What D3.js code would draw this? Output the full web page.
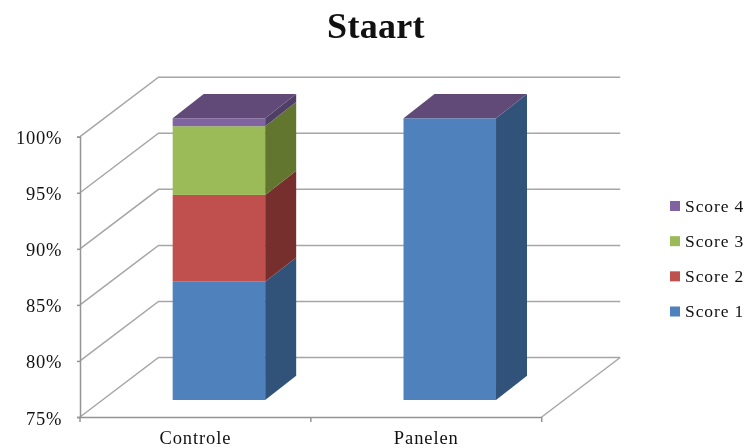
<!DOCTYPE html>
<html>
<head>
<meta charset="utf-8">
<script src="https://cdnjs.cloudflare.com/ajax/libs/d3/7.8.5/d3.min.js"></script>
<style>
    body { margin: 0; background: #fff; overflow: hidden; }
    svg { display: block; filter: blur(0.35px); }
    text { font-family: "Liberation Serif", serif; fill: #111; }
</style>
</head>
<body>
<div id="chart"></div>
<script>
var categories = ["Controle", "Panelen"];
var seriesNames = ["Score 1", "Score 2", "Score 3", "Score 4"];
var score1 = [85.5, 100];
var score2 = [7.7, 0];
var score3 = [6.1, 0];
var score4 = [0.7, 0];
var yTicks = [75, 80, 85, 90, 95, 100];

var frontColors = ["#4f81bd", "#c0504d", "#9bbb59", "#8064a2"];
var sideColors = ["#31537a", "#772f2e", "#62762f", "#4f3f66"];
var topColor = "#614a78";

var width = 747, height = 448;
var wallDx = 78.5, wallDy = -59.5;
var barDx = 31, barDy = -24.2;
var barShift = 23.5, barWidth = 92.5;

var svg = d3.select("#chart").append("svg")
    .attr("width", width)
    .attr("height", height);

var x = d3.scaleBand().domain(categories).range([80, 541.7]);
var yFront = d3.scaleLinear().domain([75, 100]).range([417, 136.7]);
var yBar = d3.scaleLinear().domain([75, 100]).range([400, 118.3]);

var rows = categories.map(function(c, i) {
    return { category: c, "Score 1": score1[i], "Score 2": score2[i], "Score 3": score3[i], "Score 4": score4[i] };
});
var stacked = d3.stack().keys(seriesNames)(rows);

// walls
var wall = svg.append("g").attr("fill", "none");
wall.selectAll(".grid").data(yTicks).enter().append("path")
    .attr("class", "grid")
    .attr("stroke", "#a6a6a6")
    .attr("stroke-width", 1.5)
    .attr("d", function(d) {
        var y0 = yFront(d);
        return d3.line()([[x.range()[0], y0], [x.range()[0] + wallDx, y0 + wallDy], [x.range()[1] + wallDx, y0 + wallDy]]);
    });
wall.append("path")
    .attr("stroke", "#a6a6a6")
    .attr("stroke-width", 1.5)
    .attr("d", d3.line()([[x.range()[1], yFront(75)], [x.range()[1] + wallDx, yFront(75) + wallDy]]));

// axes
var yAxis = svg.append("g")
    .attr("transform", "translate(" + x.range()[0] + ",0)")
    .call(d3.axisLeft(yFront).tickValues(yTicks).tickSize(3).tickPadding(15).tickFormat(function(d) { return d + "%"; }));
yAxis.selectAll("text").attr("dy", "0.38em").style("font-size", "18.5px").style("letter-spacing", "0.7px");

var xAxis = svg.append("g")
    .attr("transform", "translate(0," + yFront(75) + ")")
    .call(d3.axisBottom(x).tickSize(0).tickPadding(13.5));
xAxis.selectAll("text").style("font-size", "18.5px").style("letter-spacing", "0.9px");

var boundaries = categories.map(function(c) { return x(c); }).concat(x.range()[1]);
xAxis.selectAll(".edge").data(boundaries).enter().append("line")
    .attr("class", "edge")
    .attr("x1", function(d) { return d; })
    .attr("x2", function(d) { return d; })
    .attr("y1", 0)
    .attr("y2", 5);

svg.selectAll(".domain, .tick line, .edge")
    .attr("stroke", "#949494")
    .attr("stroke-width", 1.5);

// bars
function barLeft(category) {
    return x(category) + x.bandwidth() / 2 + barShift - barWidth / 2;
}

var bars = svg.append("g");
stacked.forEach(function(layer, s) {
    var g = bars.append("g");
    g.selectAll(".front").data(layer).enter().append("rect")
        .attr("class", "front")
        .attr("x", function(d) { return barLeft(d.data.category); })
        .attr("y", function(d) { return yBar(Math.max(d[1], 75)); })
        .attr("width", barWidth)
        .attr("height", function(d) { return yBar(Math.max(d[0], 75)) - yBar(Math.max(d[1], 75)); })
        .attr("fill", frontColors[s]);
    g.selectAll(".side").data(layer).enter().append("path")
        .attr("class", "side")
        .attr("fill", sideColors[s])
        .attr("d", function(d) {
            var xr = barLeft(d.data.category) + barWidth;
            var y0 = yBar(Math.max(d[0], 75)), y1 = yBar(Math.max(d[1], 75));
            return d3.line()([[xr, y0], [xr + barDx, y0 + barDy], [xr + barDx, y1 + barDy], [xr, y1]]) + "Z";
        });
});

bars.append("g").selectAll("path").data(stacked[stacked.length - 1]).enter().append("path")
    .attr("fill", topColor)
    .attr("d", function(d) {
        var xl = barLeft(d.data.category), y1 = yBar(d[1]);
        return d3.line()([[xl, y1], [xl + barWidth, y1], [xl + barWidth + barDx, y1 + barDy], [xl + barDx, y1 + barDy]]) + "Z";
    });

// title
svg.append("text")
    .attr("x", 376)
    .attr("y", 38)
    .attr("text-anchor", "middle")
    .style("font-size", "36px")
    .style("font-weight", "bold")
    .style("letter-spacing", "0.3px")
    .text("Staart");

// legend
var legendY = d3.scalePoint().domain(seriesNames.slice().reverse()).range([206, 311.5]);
var legend = svg.append("g").selectAll("g").data(seriesNames).enter().append("g")
    .attr("transform", function(d) { return "translate(670," + legendY(d) + ")"; });
legend.append("rect")
    .attr("x", 0)
    .attr("y", -5)
    .attr("width", 10)
    .attr("height", 10)
    .attr("fill", function(d, i) { return frontColors[i]; });
legend.append("text")
    .attr("x", 15)
    .attr("dy", "0.34em")
    .style("font-size", "17.5px")
    .style("letter-spacing", "0.9px")
    .text(function(d) { return d; });
</script>
</body>
</html>
